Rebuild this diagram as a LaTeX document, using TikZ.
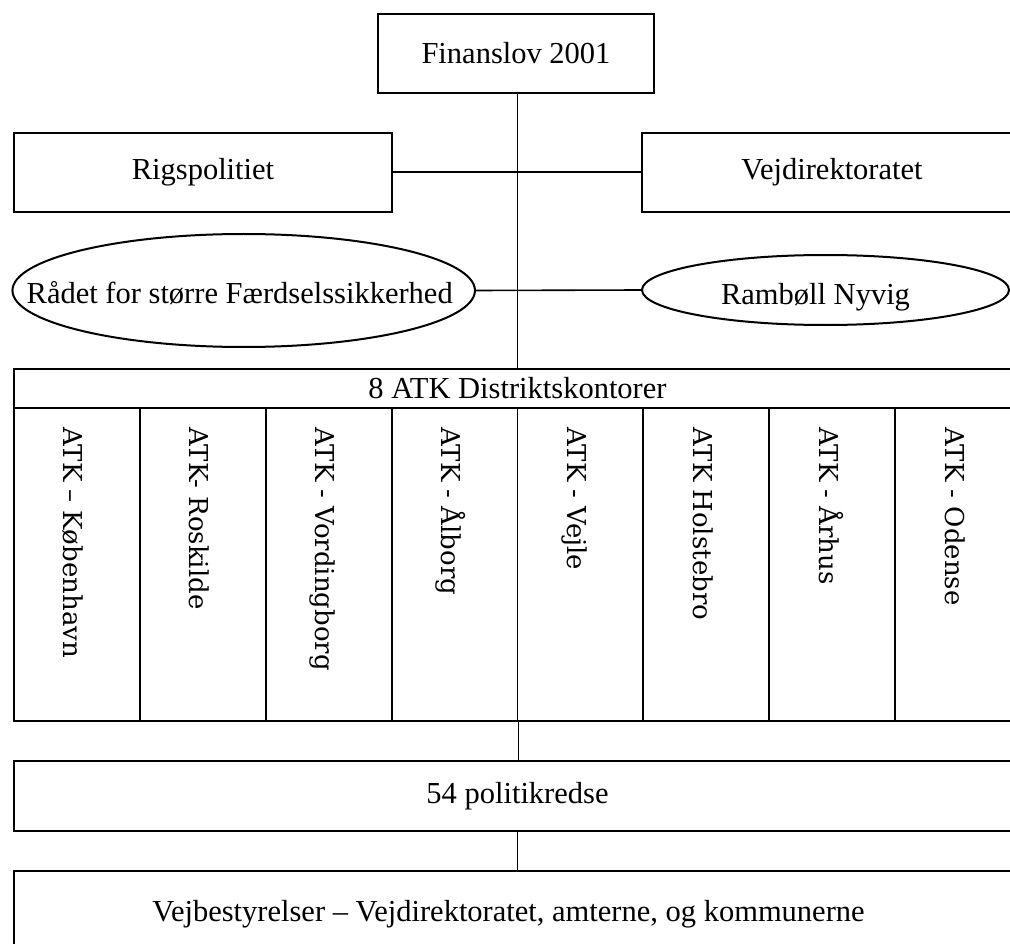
\documentclass[tikz,border=0pt]{standalone}
\usepackage{fontspec}
\setmainfont{Liberation Serif}
\newfontfamily\colfont{DejaVu Serif}
\usetikzlibrary{shapes.geometric}
\newcommand\mainsz{\fontsize{30.5}{36}\selectfont}
\newcommand\colsz{\colfont\fontsize{26}{30}\selectfont}
\begin{document}
\begin{tikzpicture}[x=1pt,y=-1pt,
  box/.style={draw, line width=2pt, rectangle, inner sep=0pt, font=\mainsz},
  oval/.style={draw, ellipse, line width=2pt, inner sep=0pt},
  ovaltext/.style={inner sep=0pt, font=\mainsz},
  colbox/.style={draw, line width=1.8pt, rectangle, inner sep=0pt, minimum width=125.875pt, minimum height=313pt},
  coltext/.style={rotate=-90, anchor=base west, inner sep=0pt, font=\colsz},
  conn/.style={line width=1.6pt}]
\useasboundingbox (0,0) rectangle (1010,944);
\clip (0,0) rectangle (1010,944);
\node[box, minimum width=276pt, minimum height=79pt] (fin) at (516,53.3) {Finanslov 2001};
\node[box, minimum width=378pt, minimum height=79.5pt] (rig) at (203,172.3) {Rigspolitiet};
\node[box, minimum width=380pt, minimum height=79.5pt] (vej) at (832,172.3) {Vejdirektoratet};
\node[oval, minimum width=462.5pt, minimum height=113pt] (rad) at (243.7,290.5) {};
\node[ovaltext] (radt) at ([xshift=-4pt, yshift=-3pt]rad.center) {Rådet for større Færdselssikkerhed};
\node[oval, minimum width=367pt, minimum height=70pt] (ram) at (825.5,290) {};
\node[ovaltext] (ramt) at ([xshift=-10pt, yshift=-7pt]ram.center) {Rambøll Nyvig};
\node[box, minimum width=1007pt, minimum height=39.5pt] (hdr) at (517.5,388.3) {8 ATK Distriktskontorer};
\foreach \i/\lbl in {1/{ATK – København}, 2/{ATK- Roskilde}, 3/{ATK - Vordingborg}, 4/{ATK - Ålborg}, 5/{ATK - Vejle}, 6/{ATK Holstebro}, 7/{ATK - Århus}, 8/{ATK - Odense}} {
  \node[colbox] (c\i) at ({14+125.875*(\i-0.5)},564.5) {};
  \node[coltext] (t\i) at ([xshift=-13pt, yshift=-20pt]c\i.north) {\lbl};
}
\node[box, minimum width=1007pt, minimum height=69.5pt] (pol) at (517.5,796) {54 politikredse};
\node[box, minimum width=1007pt, minimum height=87.5pt] (vejb) at (517.5,914.3) {Vejbestyrelser – Vejdirektoratet, amterne, og kommunerne\hspace*{18pt}};
\draw[conn] (fin.south -| hdr.north) -- (hdr.north);
\draw[conn] (rig.east) -- (vej.west);
\draw[conn] (rad.east) -- (ram.west);
\draw[conn] (c4.south east) -- (c4.south east |- pol.north);
\draw[conn] (pol.south) -- (vejb.north);
\end{tikzpicture}
\end{document}
